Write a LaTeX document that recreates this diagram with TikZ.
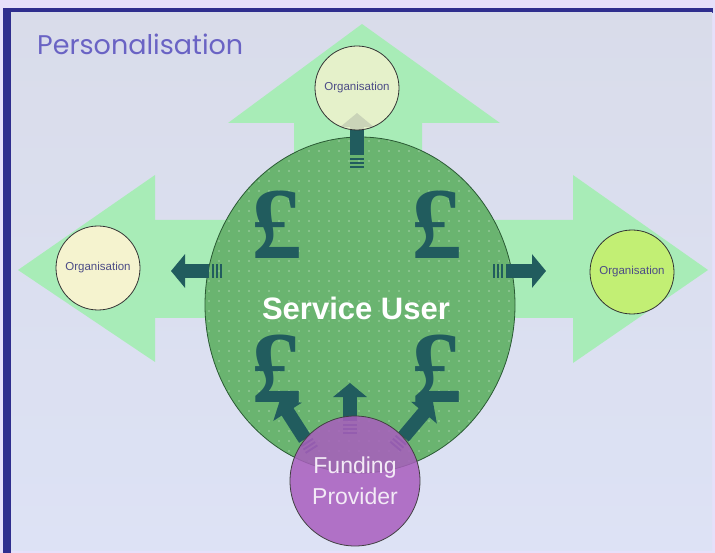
\documentclass[tikz,border=0pt]{standalone}
\usepackage{fontspec}
\setmainfont{Liberation Sans}
\newfontfamily\titlefont{Poppins}
\newfontfamily\poundfont{Liberation Serif}
\usepackage{xcolor}
\usetikzlibrary{arrows.meta, shapes.geometric, positioning, calc}

\definecolor{framelav}{HTML}{E6E0FA}
\definecolor{frameblue}{HTML}{2F2E8E}
\definecolor{bgtop}{HTML}{D9DCEA}
\definecolor{bgmid}{HTML}{E1EBF4}
\definecolor{bgbot}{HTML}{DDE2F5}
\definecolor{titleblue}{HTML}{6A63C4}
\definecolor{arrowgreen}{HTML}{A3EEB2}
\definecolor{usergreen}{HTML}{6AB470}
\definecolor{userline}{HTML}{2A5A34}
\definecolor{payteal}{HTML}{215C5E}
\definecolor{orgcream}{HTML}{F5F3CF}
\definecolor{orglime}{HTML}{C2EF74}
\definecolor{orgtext}{HTML}{4C4C86}
\definecolor{fundpurple}{HTML}{A95EBE}
\definecolor{fundtext}{HTML}{F3EAF6}

\tikzset{
  bigarrow/.style={fill=arrowgreen, fill opacity=0.9},
  org/.style={circle, draw=black!80, line width=0.8pt, minimum size=84pt, inner sep=0pt,
    text=orgtext, font=\fontsize{11.5}{12}\selectfont},
  pound/.style={text=payteal, inner sep=0pt, font=\poundfont\bfseries\fontsize{102}{102}\selectfont},
  payarrow/.style={draw=payteal, line width=14pt, -{Triangle[width=33pt,length=14pt]}},
  paystripes/.style={draw=payteal, line width=14pt, dash pattern=on 2pt off 2pt},
  dotted fill/.style={path picture={
    \foreach \i in {0,...,33}
      \foreach \j in {0,...,35}
        \fill[white, opacity=0.4] ($(path picture bounding box.north west)+(\i*10+4,\j*10+4)$) circle (0.8);}}
}

\begin{document}
\begin{tikzpicture}[x=1pt, y=-1pt]
  \useasboundingbox (0,0) rectangle (715,553);
  \fill[framelav] (0,0) rectangle (715,553);
  \fill[frameblue] (3,8) rectangle (713,13);
  \fill[frameblue] (3,8) rectangle (11,553);
  \shade[top color=bgtop, middle color=bgmid, bottom color=bgbot] (11,13) rectangle (712,550);

  \node (title) [anchor=base west, text=titleblue, inner sep=0pt,
    font=\titlefont\fontsize{27}{27}\selectfont] at (37,55) {Personalisation};

  \fill[bigarrow] (294,200) -- (294,123) -- (228,123) -- (362,24) -- (500,123)
    -- (422,123) -- (422,200) -- cycle;
  \fill[bigarrow] (260,220) -- (155,220) -- (155,175) -- (18,270) -- (155,362)
    -- (155,318) -- (260,318) -- cycle;
  \fill[bigarrow] (460,220) -- (573,220) -- (573,175) -- (708,270) -- (573,363)
    -- (573,318) -- (460,318) -- cycle;

  \node (user) [ellipse, draw=userline, line width=0.8pt, fill=usergreen, dotted fill,
    minimum width=310pt, minimum height=336pt] at (360,305) {};
  \node (label) [text=white, font=\bfseries\fontsize{31}{31}\selectfont] at (356,308) {Service User};

  \node (p1) [pound] at (277,225) {£};
  \node (p2) [pound] at (437,225) {£};
  \node (p3) [pound] at (277,369) {£};
  \node (p4) [pound] at (437,369) {£};

  \coordinate (lt0) at (222,271);
  \coordinate (lt1) at (171,271);
  \coordinate (rt0) at (493,271);
  \coordinate (rt1) at (546,271);
  \coordinate (up0) at (357,168);
  \coordinate (up1) at (357,113);
  \coordinate (f10) at (312,450);
  \coordinate (f11) at (280,400);
  \coordinate (f20) at (350,434);
  \coordinate (f21) at (350,383);
  \coordinate (f30) at (395,447);
  \coordinate (f31) at (433,402);

  \foreach \s/\e in {lt0/lt1, rt0/rt1, up0/up1, f10/f11, f20/f21, f30/f31} {
    \draw[paystripes] (\s) -- ($(\s)!11pt!(\e)$);
    \draw[payarrow] ($(\s)!13pt!(\e)$) -- (\e);
  }

  \node (orgtop) [org, fill=orgcream, fill opacity=0.8, text opacity=1] at (357,88) {Organisation};
  \node (orgleft) [org, fill=orgcream] at (98,268) {Organisation};
  \node (orgright) [org, fill=orglime] at (632,272) {Organisation};

  \node (funder) [circle, draw=black!75, line width=0.8pt, fill=fundpurple, fill opacity=0.85,
    text opacity=1, minimum size=130pt, inner sep=0pt, align=center, text=fundtext,
    font=\fontsize{23}{31}\selectfont] at (355,481) {Funding\\Provider};
\end{tikzpicture}
\end{document}
